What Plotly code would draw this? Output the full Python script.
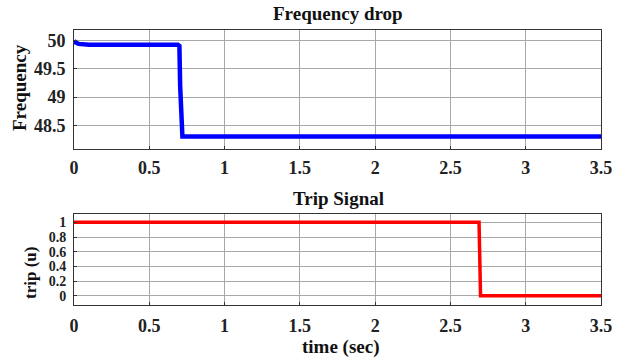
import plotly.graph_objects as go
from plotly.subplots import make_subplots

# Frequency response (Hz) over time (s)
freq_time = [0.0, 0.01, 0.03, 0.06, 0.10, 0.69, 0.70, 0.705, 0.712, 0.72, 1.5, 2.5, 3.5]
freq_vals = [50.0, 49.97, 49.945, 49.935, 49.93, 49.93, 49.91, 49.2, 48.4, 48.3, 48.3, 48.3, 48.3]

# Breaker trip command
trip_time = [0.0, 2.69, 2.70, 3.5]
trip_vals = [1.0, 1.0, 0.0, 0.0]

x_ticks = [0, 0.5, 1, 1.5, 2, 2.5, 3, 3.5]
x_tick_text = ["0", "0.5", "1", "1.5", "2", "2.5", "3", "3.5"]
f_ticks = [48.5, 49, 49.5, 50]
f_tick_text = ["48.5", "49", "49.5", "50"]
trip_ticks = [0, 0.2, 0.4, 0.6, 0.8, 1]
trip_tick_text = ["0", "0.2", "0.4", "0.6", "0.8", "1"]

FONT = "Liberation Serif, Times New Roman, serif"
W, H = 626, 360
L, R = 74, 25

fig = make_subplots(rows=2, cols=1)

fig.add_trace(go.Scatter(x=freq_time, y=freq_vals, mode="lines",
                         line=dict(color="#0000ff", width=4.5), showlegend=False),
              row=1, col=1)
fig.add_trace(go.Scatter(x=trip_time, y=trip_vals, mode="lines",
                         line=dict(color="#ff0000", width=3.5), showlegend=False),
              row=2, col=1)

def py(px):
    return 1 - px / H

def px_x(px):
    return (px - L) / (W - L - R)

axis_common = dict(
    automargin=False,
    showline=True, linecolor="#333333", linewidth=1, mirror=True,
    showgrid=True, gridcolor="#a8a8a8", gridwidth=1,
    zeroline=False, ticks="inside", ticklen=3, tickcolor="#333333",
    tickfont=dict(family=FONT, size=18, color="#222222", weight="bold"),
)

fig.update_xaxes(range=[0, 3.5], tickvals=x_ticks, ticktext=x_tick_text, **axis_common)
fig.update_yaxes(**axis_common)

fig.update_layout(
    width=W, height=H,
    font=dict(family=FONT, size=18, color="#222222"),
    margin=dict(l=L, r=R, t=0, b=0),
    paper_bgcolor="white", plot_bgcolor="white",
    xaxis=dict(domain=[0, 1], ticklabelstandoff=2),
    xaxis2=dict(domain=[0, 1], ticklabelstandoff=4),
    yaxis=dict(domain=[py(149), py(29.5)], range=[48.08, 50.2],
               tickvals=f_ticks, ticktext=f_tick_text, ticklabelstandoff=4),
    yaxis2=dict(domain=[py(305), py(213.5)], range=[-0.125, 1.12],
                tickvals=trip_ticks, ticktext=trip_tick_text, ticklabelstandoff=4,
                tickfont=dict(family=FONT, size=14, color="#222222", weight="bold")),
)

title_font = dict(family=FONT, size=19, color="#111111")

def label(text, x, y, angle=0, size=19):
    return dict(text=text, x=x, y=y, xref="paper", yref="paper",
                xanchor="center", yanchor="middle", showarrow=False,
                textangle=angle, font=dict(title_font, size=size))

fig.update_layout(annotations=[
    label("<b>Frequency drop</b>", px_x(338), py(14)),
    label("<b>Trip Signal</b>", px_x(338), py(198)),
    label("<b>time (sec)</b>", px_x(341), py(347)),
    label("<b>Frequency</b>", px_x(19), py(88), angle=-90),
    label("<b>trip (u)</b>", px_x(30), py(273), angle=-90, size=17),
])

fig.write_html("out.html")
